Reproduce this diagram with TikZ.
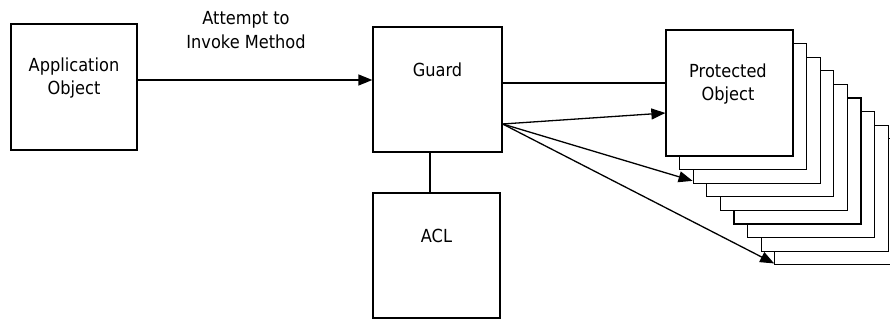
\documentclass[tikz,border=0pt]{standalone}
\usepackage{fontspec}
\setmainfont{DejaVu Sans}[FakeStretch=0.9]
\usetikzlibrary{arrows.meta}
\tikzset{
  box/.style={draw=black, line width=1.3pt, fill=white, inner sep=0pt},
  lbl/.style={font=\fontsize{18}{23.5}\selectfont, align=center, inner sep=0pt},
  conn/.style={draw=black, line width=1.3pt},
  arr/.style={conn, -{Triangle[length=14pt,width=11pt]}}
}
\begin{document}
\begin{tikzpicture}[x=1pt,y=-1pt]
\useasboundingbox (0,0) rectangle (890,320);
\fill[white] (0,0) rectangle (890,320);
\clip (0,0) rectangle (890,320);
% application object
\node[box, minimum width=126pt, minimum height=126pt] (app) at (74,87) {};
\node[lbl] (appt) at (74,78) {Application\\Object};
% guard
\node[box, minimum width=129pt, minimum height=125pt] (guard) at (437.5,89.5) {};
\node[lbl] (guardt) at (437.5,70) {Guard};
% ACL
\node[box, minimum width=127pt, minimum height=125pt] (acl) at (436.5,255.5) {};
\node[lbl] (aclt) at (436.5,236) {ACL};
% protected objects stack (back to front)
\foreach \i in {8,7,...,0} {
  \node[box, minimum width=127pt, minimum height=126pt] (p\i) at ({729.5+13.6*\i},{93+13.6*\i}) {};
}
\node[lbl] (pt) at (728,84) {Protected\\Object};
% label of the first arrow
\node[lbl] (attl) at (246,30) {Attempt to\\Invoke Method};
% connectors
\draw[arr] ([yshift=7pt]app.east) -- ([yshift=7pt]app.east -| guard.west);
\draw[conn] ([xshift=-7.5pt]guard.south) -- ([xshift=-7.5pt]guard.south |- acl.north);
\draw[conn] ([yshift=6.5pt]guard.east) -- ([yshift=6.5pt]guard.east -| p0.west);
\coordinate (g0) at ([yshift=-34.5pt]guard.east);
\draw[arr] (g0) -- ([yshift=-20pt]p0.west);
\draw[arr] (g0) -- ([yshift=3pt]p2.south west);
\draw[arr] (g0) -- ([yshift=2pt]p8.south west);
\end{tikzpicture}
\end{document}
